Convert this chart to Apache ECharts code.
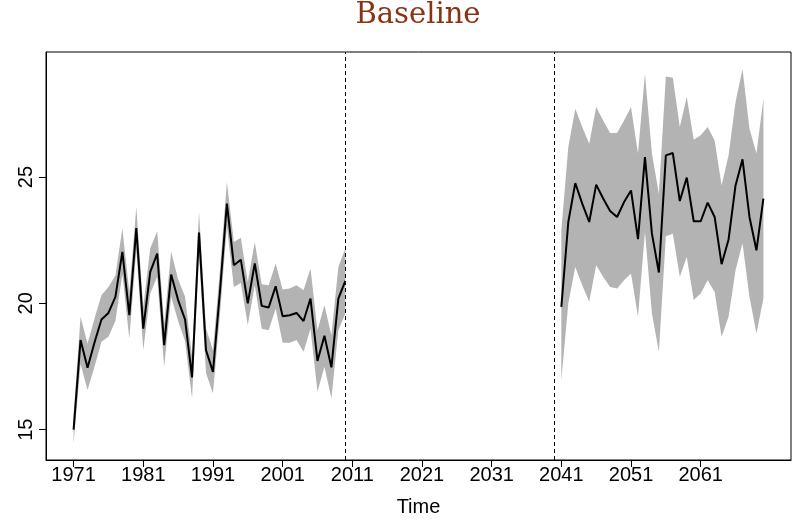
<!DOCTYPE html>
<html><head><meta charset="utf-8">
<script src="https://cdn.jsdelivr.net/npm/echarts@6/dist/echarts.min.js"></script>
<style>html,body{margin:0;padding:0;background:#fff}#c{width:793px;height:523px}</style>
</head><body><div id="c"></div>
<script>
// ---- data ----
const years1 = [1971,1972,1973,1974,1975,1976,1977,1978,1979,1980,1981,1982,1983,1984,1985,1986,1987,1988,1989,1990,
                1991,1992,1993,1994,1995,1996,1997,1998,1999,2000,2001,2002,2003,2004,2005,2006,2007,2008,2009,2010];
const mean1 = [15.0,18.55,17.45,18.45,19.36,19.62,20.26,22.04,19.53,22.98,19.0,21.25,21.97,18.35,21.14,20.13,19.36,17.07,22.8,18.15,
               17.29,20.45,23.95,21.51,21.73,20.0,21.58,19.9,19.84,20.68,19.49,19.53,19.62,19.3,20.19,17.72,18.72,17.47,20.19,20.89];
const upper1 = [15.6,19.47,18.4,19.4,20.32,20.65,21.1,22.96,20.45,23.81,19.86,22.17,22.85,19.2,22.04,20.95,20.26,17.89,23.62,19.02,
                18.15,21.3,24.8,22.43,22.6,20.85,22.43,20.76,20.72,21.58,20.55,20.59,20.72,20.52,21.38,18.94,19.93,18.74,21.44,22.17];
const lower1 = [14.45,17.6,16.57,17.49,18.48,18.68,19.3,21.15,18.61,22.1,18.15,20.39,21.05,17.49,20.26,19.3,18.5,16.24,21.98,17.24,
                16.44,19.55,23.05,20.65,20.81,19.14,20.72,19.0,18.94,19.8,18.44,18.44,18.55,18.08,19.0,16.5,17.49,16.24,18.94,19.6];

const years2 = [2041,2042,2043,2044,2045,2046,2047,2048,2049,2050,2051,2052,2053,2054,2055,
                2056,2057,2058,2059,2060,2061,2062,2063,2064,2065,2066,2067,2068,2069,2070];
const mean2 = [19.86,23.22,24.76,23.95,23.22,24.7,24.15,23.66,23.42,24.01,24.47,22.54,25.79,22.76,21.22,
               25.86,25.95,24.05,24.98,23.25,23.25,23.99,23.42,21.55,22.53,24.67,25.7,23.42,22.1,24.15];
const upper2 = [22.89,26.19,27.7,26.98,26.32,27.77,27.24,26.74,26.74,27.24,27.77,25.93,29.09,25.93,24.34,
                28.98,28.93,26.98,28.17,26.48,26.65,26.98,26.45,24.67,25.86,27.97,29.28,26.91,25.93,28.1];
const lower2 = [16.96,20.0,21.44,20.72,20.06,21.51,21.05,20.65,20.59,20.92,21.18,19.47,22.83,19.6,18.08,
                22.66,22.76,21.05,21.84,20.13,20.39,20.92,20.45,18.68,19.47,21.31,22.38,20.26,18.81,20.19];

const xTicks = [1971,1981,1991,2001,2011,2021,2031,2041,2051,2061];
const yTicks = [15,20,25];
const breakYears = [2010,2040];
const titleText = 'Baseline';
const xName = 'Time';

// ---- chart ----
const segments = [
  {years: years1, mean: mean1, lower: lower1, upper: upper1},
  {years: years2, mean: mean2, lower: lower2, upper: upper2}
];
const pairs = (xs, ys) => xs.map((x, i) => [x, ys[i]]);
const labelFont = {fontFamily: 'Liberation Sans', fontSize: 20, color: '#000'};

const chart = echarts.init(document.getElementById('c'), null, {renderer: 'canvas'});
chart.setOption({
  animation: false,
  backgroundColor: '#fff',
  graphic: [{
    type: 'text', x: 418, y: 15,
    style: {text: titleText, fontFamily: 'DejaVu Serif', fontSize: 29, fill: '#8A3212',
            textAlign: 'center', textVerticalAlign: 'middle'}
  }],
  grid: {left: 46, right: 2, top: 52, bottom: 63, show: true, borderColor: '#000', borderWidth: 1,
         backgroundColor: 'transparent', containLabel: false},
  xAxis: {
    type: 'value', min: 1967.04, max: 2073.96,
    name: xName, nameLocation: 'middle', nameGap: 37,
    nameTextStyle: Object.assign({}, labelFont),
    axisLine: {show: true, lineStyle: {color: '#000', width: 1}},
    axisTick: {show: true, length: 7, customValues: xTicks, lineStyle: {color: '#000', width: 1}},
    axisLabel: Object.assign({customValues: xTicks, margin: 5, formatter: v => String(v)}, labelFont),
    splitLine: {show: false}
  },
  yAxis: {
    type: 'value', min: 13.8, max: 29.95,
    axisLine: {show: true, lineStyle: {color: '#000', width: 1}},
    axisTick: {show: true, length: 7, customValues: yTicks, lineStyle: {color: '#000', width: 1}},
    axisLabel: Object.assign({customValues: yTicks, margin: 10, rotate: 90, formatter: v => String(v)}, labelFont),
    splitLine: {show: false}
  },
  series: [
    {
      type: 'custom',
      data: segments.map(s => [s.years[0], s.mean[0]]),
      encode: {x: 0, y: 1},
      clip: true,
      z: 1,
      renderItem: (params, api) => {
        const s = segments[params.dataIndex];
        const pts = [];
        for (let k = 0; k < s.years.length; k++) pts.push(api.coord([s.years[k], s.upper[k]]));
        for (let k = s.years.length - 1; k >= 0; k--) pts.push(api.coord([s.years[k], s.lower[k]]));
        return {type: 'polygon', shape: {points: pts}, style: {fill: '#b3b3b3', stroke: null}};
      }
    },
    {
      type: 'line', data: pairs(years1, mean1), showSymbol: false, symbol: 'none', z: 3,
      lineStyle: {color: '#000', width: 2}, silent: true,
      markLine: {
        silent: true, symbol: ['none', 'none'], label: {show: false},
        lineStyle: {color: '#000', width: 1, type: [4, 3]},
        data: breakYears.map(y => ({xAxis: y}))
      }
    },
    {
      type: 'line', data: pairs(years2, mean2), showSymbol: false, symbol: 'none', z: 3,
      lineStyle: {color: '#000', width: 2}, silent: true
    }
  ]
});
</script></body></html>
